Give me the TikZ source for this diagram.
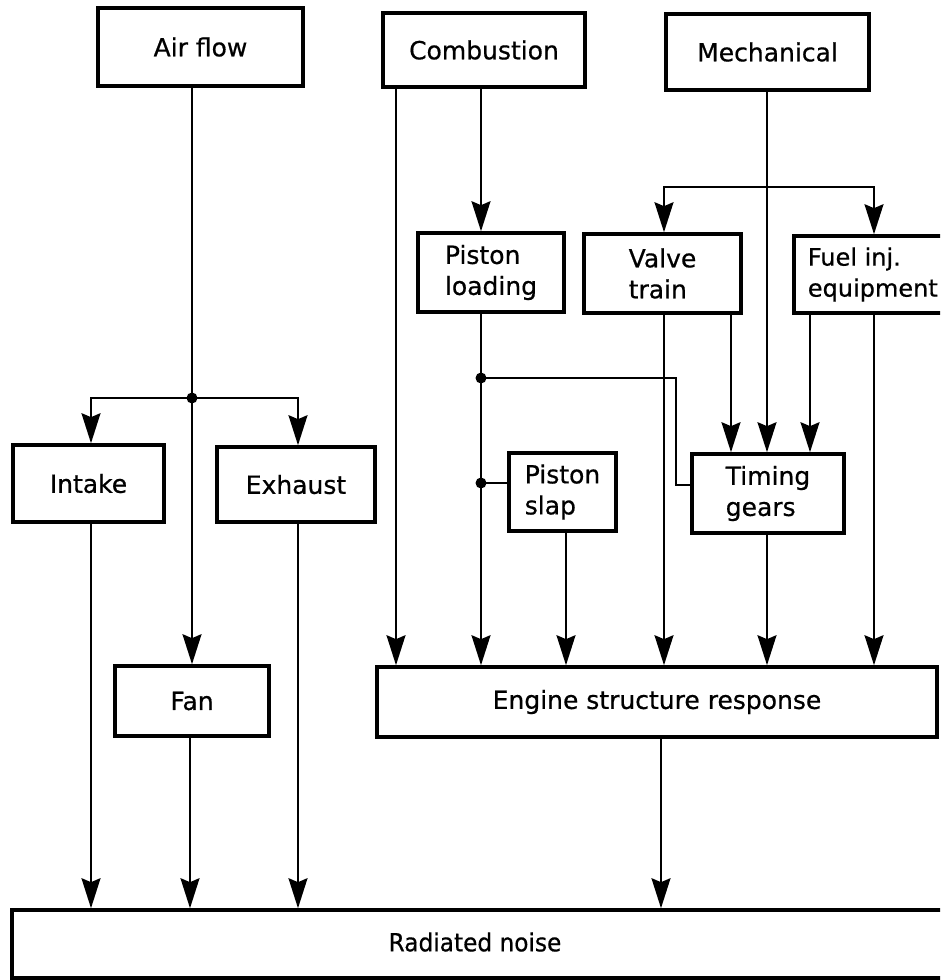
\documentclass[tikz,border=0pt]{standalone}
\usepackage{fontspec}
\setmainfont{DejaVu Sans}[FakeBold=0.6]
\usetikzlibrary{arrows.meta}
\begin{document}
\begin{tikzpicture}[x=1pt,y=-1pt,
  box/.style={draw, line width=3.6pt, inner sep=0pt, align=left,
    font=\fontsize{25}{31}\selectfont},
  conn/.style={line width=2pt},
  arr/.style={conn, -{Stealth[length=30pt,width=19pt,inset=4pt]}},
  dot/.style={fill=black}]
\useasboundingbox (0,0) rectangle (940,980);
\clip (0,0) rectangle (940,980);
% boxes
\node[box, minimum width=205, minimum height=78] (air) at (200.5,47) {Air flow};
\node[box, minimum width=202, minimum height=74] (comb) at (484,50) {Combustion};
\node[box, minimum width=203, minimum height=76] (mech) at (767.5,52) {Mechanical};
\node[box, minimum width=146, minimum height=79] (pload) at (491,272.5) {Piston\\loading};
\node[box, minimum width=157, minimum height=79] (valve) at (662.5,273.5) {Valve\\train};
\node[box, minimum width=150, minimum height=77, anchor=west,
  font=\fontsize{24}{31}\selectfont] (fuel) at (792,274.5) {\hspace{8pt}Fuel inj.\\\hspace{8pt}equipment};
\node[box, minimum width=151, minimum height=77] (intake) at (88.5,483.5) {Intake};
\node[box, minimum width=158, minimum height=75] (exhaust) at (296,484.5) {Exhaust};
\node[box, minimum width=107, minimum height=78] (pslap) at (562.5,492) {Piston\\slap};
\node[box, minimum width=152, minimum height=79] (tgears) at (768,493.5) {Timing\\gears};
\node[box, minimum width=154, minimum height=70] (fan) at (192,701) {Fan};
\node[box, minimum width=560, minimum height=70] (esr) at (657,702) {Engine structure response};
\node[box, minimum width=948, minimum height=68] (noise) at (486,944) {};
\node[font=\fontsize{25}{30}\selectfont, inner sep=0pt] (noiselabel) at (475,942) {\scalebox{0.93}[1]{Radiated noise}};
% columns
\coordinate (cA) at (91,0);
\coordinate (cB) at (192,0);
\coordinate (cBf) at (190,0);
\coordinate (cC) at (298,0);
\coordinate (cD) at (396,0);
\coordinate (cE) at (481,0);
\coordinate (cF) at (566,0);
\coordinate (cG) at (664,0);
\coordinate (cH) at (731,0);
\coordinate (cI) at (767,0);
\coordinate (cJ) at (810,0);
\coordinate (cK) at (874,0);
\coordinate (cL) at (661,0);
% junctions
\coordinate (j1) at (192,398);
\coordinate (br) at (767,187);
\coordinate (j2) at (481,378);
\coordinate (j3) at (481,483);
\coordinate (j4) at (676,485);
% air flow branch
\draw[conn] (air.south -| cB) -- (j1);
\draw[arr] (j1) -- (fan.north -| cB);
\draw[arr] (j1) -| (intake.north -| cA);
\draw[arr] (j1) -| (exhaust.north -| cC);
\fill[dot] (j1) circle (5.5);
\draw[arr] (intake.south -| cA) -- (noise.north -| cA);
\draw[arr] (fan.south -| cBf) -- (noise.north -| cBf);
\draw[arr] (exhaust.south -| cC) -- (noise.north -| cC);
% combustion
\draw[arr] (comb.south -| cD) -- (esr.north -| cD);
\draw[arr] (comb.south -| cE) -- (pload.north -| cE);
% mechanical
\draw[arr] (mech.south -| cI) -- (tgears.north -| cI);
\draw[arr] (br) -| (valve.north -| cG);
\draw[arr] (br) -| (fuel.north -| cK);
% piston loading
\draw[arr] (pload.south -| cE) -- (esr.north -| cE);
\draw[conn] (j2) -| (j4) -- (j4 -| tgears.west);
\draw[conn] (j3) -- (j3 -| pslap.west);
\fill[dot] (j2) circle (5.5);
\fill[dot] (j3) circle (5.5);
\draw[arr] (pslap.south -| cF) -- (esr.north -| cF);
% valve train, fuel inj
\draw[arr] (valve.south -| cG) -- (esr.north -| cG);
\draw[arr] (valve.south -| cH) -- (tgears.north -| cH);
\draw[arr] (fuel.south -| cJ) -- (tgears.north -| cJ);
\draw[arr] (fuel.south -| cK) -- (esr.north -| cK);
% timing gears, esr
\draw[arr] (tgears.south -| cI) -- (esr.north -| cI);
\draw[arr] (esr.south -| cL) -- (noise.north -| cL);
\end{tikzpicture}
\end{document}
